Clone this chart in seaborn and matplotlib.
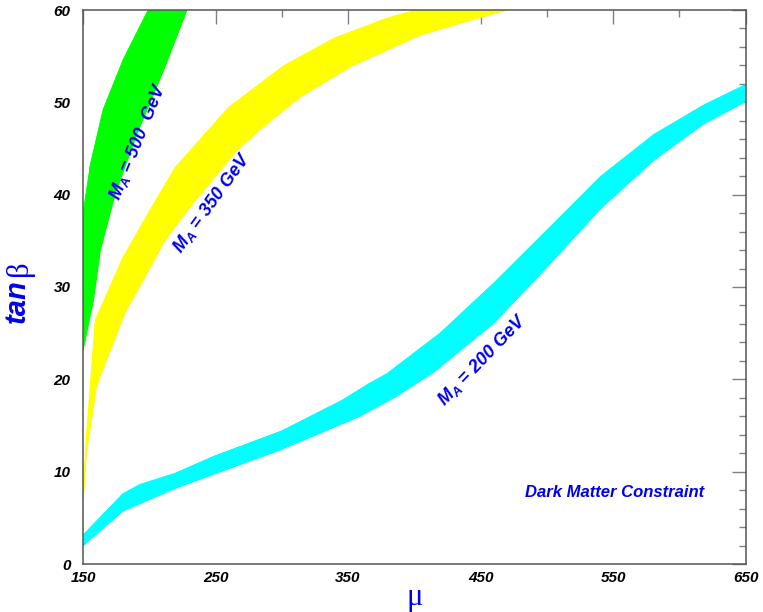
import matplotlib
matplotlib.use("Agg")
import matplotlib.pyplot as plt
import seaborn as sns

# band edges (mu, tan beta)
green_left_mu = [150, 150, 155.3, 165.3, 180.4, 199.3]
green_left_tb = [23.2, 38, 43, 49.2, 54.6, 60]
green_right_mu = [150, 157.8, 163, 170.4, 174.2, 190.6, 211.9, 228.3]
green_right_tb = [23.2, 28.6, 34, 38, 40.1, 46.6, 53.9, 60]

yellow_up_mu = [150, 152.5, 155.8, 159.4, 180, 200.6, 219.5, 259.7, 301, 339, 379.4, 402]
yellow_up_tb = [6.9, 13.4, 19.6, 26.4, 33.1, 38.3, 42.9, 49.4, 53.9, 56.9, 59.1, 60]
yellow_lo_mu = [150, 152.5, 160, 167.6, 175, 181.5, 196.7, 211.9, 230.8, 266, 288.7, 314, 352, 404.5, 442, 470]
yellow_lo_tb = [6.9, 12, 19.2, 22.1, 24.8, 27.2, 31.1, 35.1, 38.7, 44.8, 47.7, 50.6, 53.9, 57.3, 58.9, 60]

cyan_up_mu = [150, 180.2, 193, 219.4, 249.6, 300, 345.3, 366.8, 379.4, 419.6, 459.9, 497.7, 540.5, 580.7, 618.5, 650]
cyan_up_tb = [3.1, 7.6, 8.6, 9.8, 11.7, 14.4, 17.7, 19.6, 20.6, 25, 30.4, 35.8, 41.95, 46.5, 49.7, 51.9]
cyan_lo_mu = [150, 180.2, 219.4, 249.6, 297.5, 357.9, 385.6, 414.7, 459.9, 500.2, 540.5, 580.7, 618.5, 650]
cyan_lo_tb = [2.0, 5.75, 8.2, 9.8, 12.3, 15.95, 18.1, 20.8, 26.1, 32.2, 38.5, 43.75, 47.7, 50.1]

band_labels = [r"M$_{\mathrm{A}}$ = 500  GeV", r"M$_{\mathrm{A}}$ = 350 GeV", r"M$_{\mathrm{A}}$ = 200 GeV"]
xticks = [150, 250, 350, 450, 550, 650]
yticks = [0, 10, 20, 30, 40, 50, 60]

sns.set_theme(style="white")
plt.rcParams["font.family"] = ["Liberation Sans", "DejaVu Sans"]
plt.rcParams["mathtext.fontset"] = "custom"
plt.rcParams["mathtext.rm"] = "Liberation Sans:bold:italic"
plt.rcParams["mathtext.it"] = "Liberation Sans:bold:italic"
plt.rcParams["mathtext.bf"] = "Liberation Sans:bold:italic"

fig = plt.figure(figsize=(7.63, 6.12), dpi=100)
ax = fig.add_axes([83 / 763, 48 / 612, 662.7 / 763, 554 / 612])

bands = [
    (green_left_mu, green_left_tb, green_right_mu, green_right_tb, "#00ff00"),
    (yellow_up_mu, yellow_up_tb, yellow_lo_mu, yellow_lo_tb, "#ffff00"),
    (cyan_up_mu, cyan_up_tb, cyan_lo_mu, cyan_lo_tb, "#00ffff"),
]
for m1, t1, m2, t2, col in bands:
    px = list(m1) + list(m2)[::-1]
    py = list(t1) + list(t2)[::-1]
    ax.fill(px, py, color=col, lw=0.6, ec=col, zorder=2)
    sns.lineplot(x=m1, y=t1, sort=False, color=col, lw=0.8, ax=ax, zorder=2)
    sns.lineplot(x=m2, y=t2, sort=False, color=col, lw=0.8, ax=ax, zorder=2)

lab_kw = dict(color="#0000ee", fontsize=13, fontweight="bold", fontstyle="italic",
              ha="center", va="center", rotation_mode="anchor", zorder=5)
ax.text(191.2, 45.8, band_labels[0], rotation=68, **lab_kw)
ax.text(247.2, 39.1, band_labels[1], rotation=54, **lab_kw)
ax.text(451.1, 22.1, band_labels[2], rotation=46, **lab_kw)
ax.text(551, 7.75, "Dark Matter Constraint", color="#0000ee", fontsize=12,
        fontweight="bold", fontstyle="italic", ha="center", va="center")

ax.set_xlim(150, 650)
ax.set_ylim(0, 60)
ax.set_xticks(xticks)
ax.set_xticks(range(200, 650, 100), minor=True)
ax.set_yticks(yticks)
ax.set_yticks([v for v in range(0, 61, 2) if v % 10], minor=True)
ax.set_xticklabels([str(v) for v in xticks], fontsize=11, fontweight="bold", fontstyle="italic")
ax.set_yticklabels([str(v) for v in yticks], fontsize=11, fontweight="bold", fontstyle="italic")
ax.tick_params(which="both", direction="in", top=True, right=True, color="#808080",
               width=1, labelcolor="black")
ax.tick_params(which="major", length=10)
ax.tick_params(which="minor", length=5)
ax.tick_params(axis="x", which="major", pad=5)
ax.tick_params(axis="y", which="major", pad=9)
for s in ax.spines.values():
    s.set_color("#555555")
    s.set_linewidth(1.1)
ax.set_xlabel("")
ax.set_ylabel("")

# axis titles: tan in bold italic sans, Greek letters in serif
fig.text(17 / 763, 1 - 301 / 612, "tan", rotation=90, color="#0000ee", fontsize=21,
         fontweight="bold", fontstyle="italic", ha="center", va="center")
fig.text(19 / 763, 1 - 268 / 612, "β", rotation=90, color="#0000ee", fontsize=22,
         family=["Liberation Serif", "DejaVu Serif"], ha="center", va="center")
fig.text(415 / 763, 1 - 597 / 612, "μ", color="#0000ee", fontsize=22,
         family=["Liberation Serif", "DejaVu Serif"], ha="center", va="center")

fig.savefig("out.png", dpi=100)
